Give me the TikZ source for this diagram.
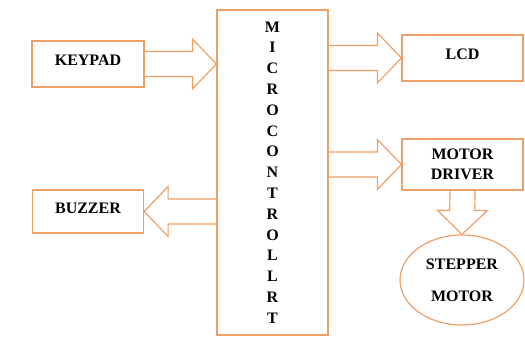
\documentclass[tikz,border=0pt]{standalone}
\usepackage{fontspec}
\setmainfont{Liberation Serif}
\usetikzlibrary{
  shapes,
  shapes.geometric,
  calc,
}
\definecolor{edgeorange}{RGB}{238,160,105}
\tikzstyle{block} = [
rectangle,
draw=edgeorange,
line width=1.2pt,
fill=white,
text depth=7pt,
font=\fontsize{16}{20}\selectfont\bfseries
]
\tikzstyle{round} = [
ellipse,
draw=edgeorange,
line width=1.2pt,
fill=white,
align=center,
font=\fontsize{16}{20}\selectfont\bfseries
]
\tikzstyle{fatline} = [draw=edgeorange, line width=1.2pt, line join=miter]
% hollow block arrow from #1 to #2
\newcommand{\fatarrow}[2]{%
  \draw[fatline] let \p1=(#1), \p2=(#2),
      \n1={atan2(\y2-\y1,\x2-\x1)}, \n2={veclen(\x2-\x1,\y2-\y1)} in
    [shift={(\p1)}, rotate=\n1]
    (0pt,12.5pt) -- (\n2-24pt,12.5pt) -- (\n2-24pt,25pt) -- (\n2,0pt)
    -- (\n2-24pt,-25pt) -- (\n2-24pt,-12.5pt) -- (0pt,-12.5pt);}

\begin{document}
\begin{tikzpicture}[x=1pt, y=1pt]
  \useasboundingbox (0,0) rectangle (525,340);
  % Place nodes
  \node [block, minimum width=111pt, minimum height=325pt, text depth=0pt,
         align=center, font=\fontsize{16}{20.8}\selectfont\bfseries]
    (mcu) at (272.5,167.5)
    {M\\I\\C\\R\\O\\C\\O\\N\\T\\R\\O\\L\\L\\R\\T};
  \node [block, minimum width=112pt, minimum height=46pt] (keypad) at (88,276) {KEYPAD};
  \node [block, minimum width=111pt, minimum height=43pt] (buzzer) at (88,128.5) {BUZZER};
  \node [block, minimum width=121pt, minimum height=46pt] (lcd) at (462.5,282) {LCD};
  \node [block, minimum width=121pt, minimum height=51pt, text depth=0pt, align=center]
    (driver) at (462.5,175.5) {MOTOR\\DRIVER};
  \node [round, minimum width=124pt, minimum height=90pt, inner sep=0pt]
    (stepper) at (462,60) {STEPPER\\[12pt]MOTOR};

  % Draw edges
  \fatarrow{keypad.east}{mcu.west |- keypad.east}
  \fatarrow{mcu.east |- lcd.west}{lcd.west}
  \fatarrow{mcu.east |- driver.west}{driver.west}
  \fatarrow{mcu.west |- buzzer.east}{buzzer.east}
  \fatarrow{driver.south}{stepper.north}
\end{tikzpicture}
\end{document}
